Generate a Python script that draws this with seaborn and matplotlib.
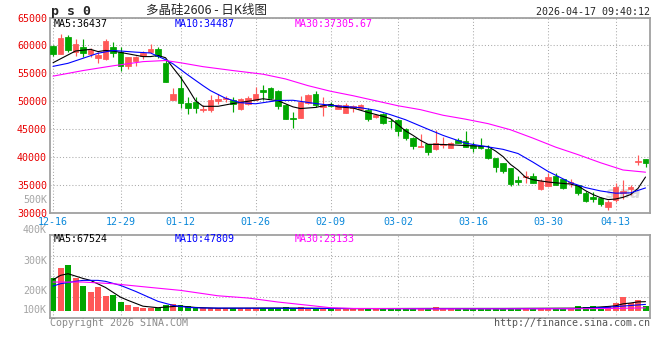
import numpy as np
import pandas as pd
import seaborn as sns
import matplotlib
matplotlib.use('Agg')
import matplotlib.pyplot as plt

# trading calendar (exchange closed on these weekdays)
holidays = ['2026-01-01', '2026-01-02', '2026-02-16', '2026-02-17', '2026-02-18',
            '2026-02-19', '2026-02-20', '2026-02-23', '2026-04-06']
tick_days = ['12-16', '12-29', '01-12', '01-26', '02-09', '03-02', '03-16', '03-30', '04-13']

# daily candles
opens = [59880, 58450, 61430, 58750, 59770, 58390, 57680, 57500, 59770, 58870,
         56370, 57270, 58160, 58870, 59290, 56910, 50230, 52320, 49700, 49820,
         48520, 48520, 50120, 50360, 50180, 48570, 49460, 50300, 51960, 52450,
         51840, 49410, 47090, 47020, 49770, 51370, 48980, 49460, 48700, 47910,
         48870, 48690, 48510, 47200, 47680, 46550, 46610, 45120, 43340, 41840,
         42320, 41380, 42140, 41550, 43040, 42910, 42140, 41960, 41430, 39880,
         38980, 37980, 35890, 36370, 36660, 34290, 34880, 36610, 36020, 35300,
         35000, 33630, 32910, 32730, 31130, 32320, 33520, 34230, 39160, 39640]
highs = [60060, 61960, 61840, 61130, 61070, 59520, 58870, 61070, 60540, 59770,
         57980, 58160, 59050, 60230, 59770, 57440, 52320, 54500, 50840, 50710,
         49410, 51200, 51370, 50950, 50770, 50600, 50950, 52560, 52980, 52560,
         51960, 49590, 48090, 50950, 51370, 51790, 50770, 49880, 49590, 49640,
         49290, 49460, 48750, 47680, 47860, 46790, 46790, 45180, 43520, 44230,
         42320, 44820, 43520, 42680, 43340, 44700, 42730, 43340, 42140, 39880,
         39000, 37980, 36610, 37550, 37090, 36020, 37090, 37090, 36020, 36070,
         35000, 33930, 33800, 32910, 32320, 35300, 35890, 35000, 40360, 39640]
lows = [58160, 58450, 58800, 58090, 57910, 57910, 56910, 57380, 57910, 55410,
        55770, 56370, 57560, 58630, 57680, 53520, 50230, 48720, 47680, 47860,
        48090, 48090, 49590, 49880, 48090, 48390, 49290, 50180, 50180, 50360,
        48690, 46800, 45240, 47020, 49590, 48980, 47380, 48980, 48700, 47860,
        48090, 48690, 46550, 47020, 46020, 45230, 43800, 43040, 41430, 41730,
        40360, 41250, 41550, 41550, 42450, 41730, 40950, 41380, 39640, 37380,
        37200, 34820, 35000, 35410, 35300, 34110, 34880, 35000, 34230, 34700,
        33210, 32020, 32020, 31250, 30540, 32020, 32450, 33210, 38570, 38270]
closes = [58390, 61370, 59110, 60180, 58630, 59110, 58270, 60770, 58570, 56370,
          57860, 57860, 58700, 59290, 58090, 53520, 51250, 49700, 48750, 48750,
          48700, 50180, 50480, 50660, 49590, 50360, 50660, 51250, 51730, 50600,
          49160, 46800, 46910, 49880, 51070, 49410, 49410, 49170, 49410, 49290,
          49110, 49290, 46910, 47500, 46120, 46430, 44700, 43450, 42020, 42020,
          40950, 42550, 42320, 42550, 42550, 41840, 41550, 41550, 39770, 38270,
          37550, 35180, 35600, 36660, 35410, 35710, 36370, 35000, 34520, 35480,
          33630, 32140, 32550, 31550, 32020, 34700, 33930, 34700, 39340, 38870]
volumes = [238000, 312000, 333000, 238000, 180000, 137000, 173000, 108000, 118000, 65000,
           46000, 29000, 22000, 24000, 24000, 41000, 48000, 41000, 34000, 24000,
           24000, 24000, 19000, 19000, 19000, 19000, 19000, 22000, 22000, 19000,
           22000, 29000, 22000, 29000, 24000, 24000, 24000, 21000, 21000, 21000,
           16000, 16000, 19000, 16000, 19000, 21000, 21000, 21000, 21000, 21000,
           21000, 26000, 16000, 17000, 18000, 21000, 18000, 16000, 19000, 21000,
           16000, 21000, 19000, 21000, 18000, 21000, 21000, 21000, 21000, 21000,
           36000, 29000, 36000, 29000, 36000, 58000, 100000, 58000, 77000, 36000]

# moving average lines (sampled off the chart)
ma5_idx = [0, 2, 3, 5, 6, 7, 8, 10, 12, 13, 14, 15, 16, 17, 18, 19, 20, 22, 24, 26,
           28, 30, 32, 33, 35, 37, 38, 40, 42, 44, 45, 46, 47, 48, 49, 50, 52, 54, 56, 58,
           59, 60, 61, 62, 63, 64, 66, 67, 69, 70, 71, 72, 73, 74, 75, 76, 77, 78, 79]
ma5_val = [56900, 58300, 59000, 59300, 58900, 59100, 59000, 58500, 58000, 58000,
           58200, 57800, 56000, 54300, 52300, 50100, 49100, 49100, 49600, 50000,
           50450, 50100, 49000, 48700, 48900, 49450, 49000, 48800, 48000, 47300,
           46900, 45800, 44700, 43900, 43000, 42300, 42270, 42140, 42020, 41900,
           41100, 40100, 38700, 37700, 36400, 35950, 35550, 35410, 35180, 34850,
           34000, 33300, 32750, 32400, 32500, 32800, 33300, 34400, 36437]
ma10_idx = [0, 2, 4, 6, 8, 11, 13, 15, 16, 18, 20, 21, 23, 25, 27, 30, 32, 35, 37, 38,
            41, 43, 45, 47, 50, 52, 55, 57, 60, 62, 64, 66, 69, 71, 73, 75, 77, 79]
ma10_val = [56250, 56800, 57700, 58600, 59100, 58800, 58650, 57450, 56700, 54700,
            52800, 51900, 50550, 49750, 49550, 50150, 50180, 49600, 49290, 49170,
            48850, 48400, 47600, 46700, 45000, 43900, 42500, 42050, 41400, 40650,
            39100, 37450, 35450, 34550, 33950, 33550, 33600, 34487]
ma30_idx = [0, 4, 8, 12, 15, 17, 20, 24, 28, 31, 34, 37, 40, 43, 46, 49, 52, 55, 58, 61,
            64, 67, 70, 73, 76, 79]
ma30_val = [54500, 55500, 56350, 57100, 57300, 56900, 56200, 55500, 54850, 54000,
            52800, 51800, 51000, 50100, 49200, 48500, 47500, 46800, 46000, 44900,
            43400, 41800, 40450, 39000, 37700, 37306]

vma5_idx = [0, 1, 2, 4, 5, 7, 9, 10, 12, 14, 15, 17, 19, 22, 30, 40, 50, 60, 70, 72,
            74, 75, 76, 77, 78, 79]
vma5_val = [225000, 257000, 269000, 235000, 221000, 170000, 100000, 77000, 35000, 24000,
            29000, 36000, 26000, 20000, 22000, 18000, 19000, 19000, 21000, 26000,
            33000, 38000, 52000, 58000, 66000, 67524]
vma10_idx = [0, 1, 3, 4, 6, 7, 9, 11, 13, 14, 16, 18, 20, 30, 40, 50, 60, 70, 72, 74,
             76, 78, 79]
vma10_val = [180000, 197000, 214000, 221000, 221000, 214000, 185000, 142000, 94000, 70000,
             41000, 26000, 22000, 20000, 18000, 17000, 17000, 18000, 22000, 27000,
             36000, 44000, 47809]
vma30_idx = [0, 4, 8, 13, 17, 22, 26, 30, 35, 37, 40, 50, 60, 70, 75, 79]
vma30_val = [209000, 209000, 197000, 170000, 149000, 110000, 94000, 65000, 36000, 24000,
             19000, 16000, 16000, 17000, 19000, 23133]

price_ticks = [30000, 35000, 40000, 45000, 50000, 55000, 60000, 65000]
vol_labels = ['500K', '400K', '300K', '200K', '100K']

RED = '#FF5858'
GREEN = '#00A600'
GRID = '#ABABAB'
FRAME = '#A0A0A0'
W, H = 660, 360


def px(x, y):
    # pixel position -> figure fraction
    return x / W, 1 - y / H


days = pd.bdate_range('2025-12-16', '2026-04-17')
days = days[~days.isin(pd.to_datetime(holidays))]
labels = list(days.strftime('%m-%d'))
tick_pos = [labels.index(d) for d in tick_days]

df = pd.DataFrame({'i': np.arange(len(days)), 'open': opens, 'high': highs,
                   'low': lows, 'close': closes, 'vol': volumes})
df['dir'] = np.where(df['close'] >= df['open'], 'up', 'down')
colors = df['dir'].map({'up': RED, 'down': GREEN}).tolist()

sns.set_theme(style='white')
plt.rcParams['font.family'] = ['DejaVu Sans Mono', 'Noto Sans CJK SC']

fig = plt.figure(figsize=(W / 100, H / 100), dpi=100)
ax = fig.add_axes([50 / W, 1 - 213 / H, 600 / W, 195.5 / H])
axv = fig.add_axes([50 / W, 1 - 318 / H, 600 / W, 83.3 / H])

# candles
ax.vlines(df['i'], df['low'], df['high'], colors=colors, linewidth=0.85, zorder=3)
body_low = np.minimum(df['open'], df['close'])
body_h = (df['close'] - df['open']).abs()
ax.bar(df['i'], body_h, bottom=body_low, width=0.74, color=colors,
       edgecolor=colors, linewidth=0.55, zorder=4)

sns.lineplot(x=ma5_idx, y=ma5_val, ax=ax, color='black', linewidth=0.8, zorder=5)
sns.lineplot(x=ma10_idx, y=ma10_val, ax=ax, color='#0000FF', linewidth=0.8, zorder=5)
sns.lineplot(x=ma30_idx, y=ma30_val, ax=ax, color='#FF00FF', linewidth=0.8, zorder=5)

# volume
sns.barplot(data=df, x='i', y='vol', hue='dir', palette={'up': RED, 'down': GREEN},
            native_scale=True, dodge=False, width=0.8, saturation=1, errorbar=None,
            legend=False, linewidth=0, ax=axv)
sns.lineplot(x=vma5_idx, y=vma5_val, ax=axv, color='black', linewidth=0.8, zorder=5)
sns.lineplot(x=vma10_idx, y=vma10_val, ax=axv, color='#0000FF', linewidth=0.8, zorder=5)
sns.lineplot(x=vma30_idx, y=vma30_val, ax=axv, color='#FF00FF', linewidth=0.8, zorder=5)

for a in (ax, axv):
    a.set_xlim(-0.4, 79.6)
    a.set_xticks(tick_pos)
    a.set_xlabel('')
    a.set_ylabel('')
    a.set_axisbelow(True)
    a.grid(True, color=GRID, linestyle=(0, (1, 2)), linewidth=0.75)
    for s in a.spines.values():
        s.set_color(FRAME)
        s.set_linewidth(1.3)
    a.tick_params(length=0)

ax.set_ylim(price_ticks[0], price_ticks[-1])
ax.set_yticks(price_ticks, labels=[str(t) for t in price_ticks])
ax.set_xticklabels(tick_days)
ax.tick_params(axis='y', pad=2.2, labelsize=7.2, labelcolor='#E80000')
ax.tick_params(axis='x', pad=3, labelsize=7.2, labelcolor='#0A88DA')

lo, hi = -50000, 550000
axv.set_ylim(lo, hi)
axv.set_yticks(np.linspace(lo, hi, 5)[1:-1])
axv.tick_params(labelleft=False, labelbottom=False)

ax.text(0.985, 0.1, 'sina', transform=ax.transAxes, ha='right', va='center',
        fontsize=11, fontstyle='italic', fontweight='bold', color='#DADADA',
        family='DejaVu Sans', zorder=1)

# header
fig.text(*px(51, 11), 'p s 0', fontsize=9.5, fontweight='bold', va='center')
fig.text(*px(206, 10), '多晶硅2606 - 日K线图', ha='center', va='center', fontsize=9,
         family=['Noto Sans CJK SC', 'DejaVu Sans'])
fig.text(*px(650, 12), '2026-04-17 09:40:12', ha='right', va='center', fontsize=7.2)

ma_colors = ['black', '#0000FF', '#FF00FF']
main_ma = ['MA5:%d' % ma5_val[-1], 'MA10:%d' % ma10_val[-1], 'MA30:37305.67']
vol_ma = ['MA5:%d' % vma5_val[-1], 'MA10:%d' % vma10_val[-1], 'MA30:%d' % vma30_val[-1]]
for x, t1, t2, c in zip([54, 175, 295], main_ma, vol_ma, ma_colors):
    fig.text(*px(x, 24), t1, color=c, fontsize=7.2, va='center')
    fig.text(*px(x, 239), t2, color=c, fontsize=7.2, va='center')

for y, t in zip([200, 230, 261, 290.5, 310], vol_labels):
    fig.text(*px(47, y), t, color='#A5A5A5', fontsize=7.2, ha='right', va='center')

fig.text(*px(50, 323.5), 'Copyright 2026 SINA.COM', color='#8A8A8A', fontsize=7.2, va='center')
fig.text(*px(650, 323.5), 'http://finance.sina.com.cn', color='#555555', fontsize=7.2,
         ha='right', va='center')

fig.savefig('out.png', dpi=100, facecolor='white')
